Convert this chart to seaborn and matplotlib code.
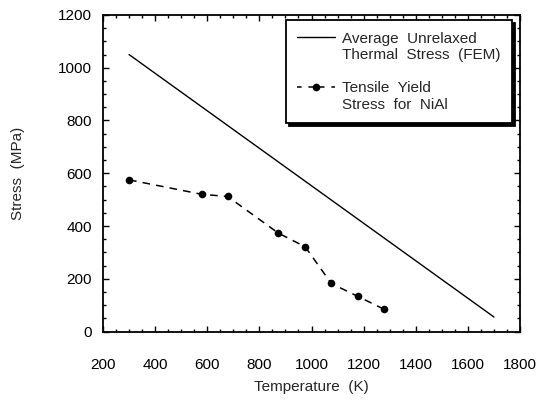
import numpy as np
import pandas as pd
import seaborn as sns
import matplotlib.pyplot as plt
from matplotlib.ticker import MultipleLocator
from matplotlib.lines import Line2D

sns.set_style("ticks")
plt.rcParams["font.family"] = ["Liberation Sans", "DejaVu Sans"]

# average unrelaxed thermal stress (FEM), straight line
fem_temp = [300, 1700]
fem_stress = [1050, 55]

# tensile yield stress for NiAl
yield_temp = [300, 580, 678, 873, 976, 1076, 1178, 1277]
yield_stress = [575, 520, 512, 373, 321, 182, 133, 85]

fem = pd.DataFrame({"Temperature": fem_temp, "Stress": fem_stress})
nial = pd.DataFrame({"Temperature": yield_temp, "Stress": yield_stress})

fig = plt.figure(figsize=(5.4, 4), dpi=100)
ax = fig.add_axes([103 / 540, 1 - 331.5 / 400, 417 / 540, 316.5 / 400])

sns.lineplot(data=fem, x="Temperature", y="Stress", ax=ax,
             color="black", linewidth=1.0)
sns.lineplot(data=nial, x="Temperature", y="Stress", ax=ax,
             color="black", linewidth=1.1, marker="o", markersize=5.5,
             markeredgewidth=0)
ax.lines[1].set_dashes([5, 4])

ax.set_xlim(200, 1800)
ax.set_ylim(0, 1200)
ax.xaxis.set_major_locator(MultipleLocator(200))
ax.xaxis.set_minor_locator(MultipleLocator(50))
ax.yaxis.set_major_locator(MultipleLocator(200))
ax.yaxis.set_minor_locator(MultipleLocator(50))
ax.tick_params(which="both", direction="in", top=True, right=True,
               colors="black", width=1)
ax.tick_params(which="major", length=4.5, labelsize=11)
ax.tick_params(which="minor", length=2.5)
ax.tick_params(axis="x", which="major", pad=19)
ax.tick_params(axis="y", which="major", pad=8)
for s in ax.spines.values():
    s.set_linewidth(1.3)
    s.set_color("black")

ax.set_xlabel("Temperature  (K)", fontsize=11, labelpad=6)
ax.set_ylabel("Stress  (MPa)", fontsize=11, labelpad=24)

blank = Line2D([], [], color="none")
solid = Line2D([], [], color="black", linewidth=1.0)
dashed = Line2D([], [], color="black", linewidth=1.1, marker="o",
                markersize=5.5, markeredgewidth=0, dashes=[3, 4.5])
handles = [solid, blank, blank, dashed, blank]
labels = ["Average  Unrelaxed", "Thermal  Stress  (FEM)", " ",
          "Tensile  Yield", "Stress  for  NiAl"]
leg = ax.legend(handles, labels, loc="upper right",
                bbox_to_anchor=(0.981, 0.984), borderaxespad=0,
                fontsize=11, handlelength=2.5, handletextpad=0.45,
                labelspacing=0.17, borderpad=0.75, fancybox=False,
                frameon=True, framealpha=1,
                shadow={"color": "black", "alpha": 1, "ox": 2.2, "oy": -2.2})
leg.get_frame().set_edgecolor("black")
leg.get_frame().set_linewidth(1.3)

fig.savefig("out.png", dpi=100)
